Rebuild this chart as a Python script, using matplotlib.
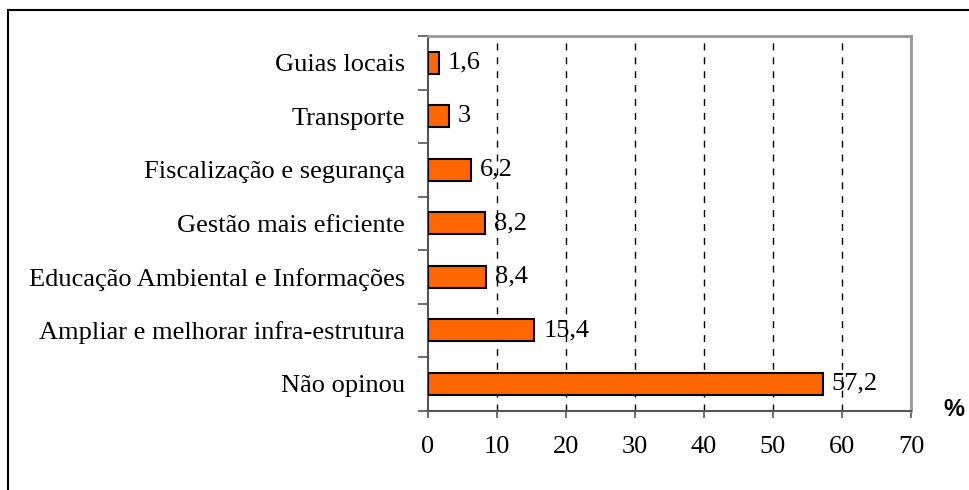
import matplotlib
matplotlib.use("Agg")
import matplotlib.pyplot as plt
from matplotlib.lines import Line2D

categorias = ["Guias locais", "Transporte", "Fiscalização e segurança",
              "Gestão mais eficiente", "Educação Ambiental e Informações",
              "Ampliar e melhorar infra-estrutura", "Não opinou"]
valores = [1.6, 3, 6.2, 8.2, 8.4, 15.4, 57.2]
rotulos = ["1,6", "3", "6,2", "8,2", "8,4", "15,4", "57,2"]
xticks = [0, 10, 20, 30, 40, 50, 60, 70]

plt.rcParams['font.family'] = ['Liberation Serif', 'DejaVu Serif']
FS = 19

fig = plt.figure(figsize=(9.7, 4.9), dpi=100)
ax = fig.add_axes([428/970, 1 - 410.7/490, (911 - 428)/970, (410.7 - 36)/490])

# posicoes de cima para baixo
ypos = list(range(len(categorias)))[::-1]
ax.barh(ypos, valores, height=0.41, color='#FF6600', edgecolor='black', linewidth=1.5, zorder=3)
for y, v, r in zip(ypos, valores, rotulos):
    ax.text(v + 1.3, y, r, va='center', ha='left', fontsize=FS, zorder=4)

ax.set_xlim(0, 70)
ax.set_ylim(-0.5, len(categorias) - 0.5)
ax.set_xticks(xticks)
ax.set_xticklabels([str(t) for t in xticks], fontsize=FS)
ax.set_yticks(ypos)
ax.set_yticklabels(categorias, fontsize=FS)
ax.tick_params(axis='y', length=0, pad=16.5)
ax.set_yticks([i - 0.5 for i in range(len(categorias) + 1)], minor=True)
ax.tick_params(axis='y', which='minor', length=7, width=1.2, color='#555555')
ax.tick_params(axis='x', length=5, width=1.2, color='#555555', pad=13)

for g in xticks[1:-1]:
    ax.axvline(g, color='black', linewidth=1, linestyle=(0, (5, 5)), zorder=1)

for s in ['top', 'right']:
    ax.spines[s].set_color('#999999')
    ax.spines[s].set_linewidth(2)
for s in ['left', 'bottom']:
    ax.spines[s].set_color('#555555')
    ax.spines[s].set_linewidth(1.5)

fig.text(954/970, 1 - 409/490, '%', ha='center', va='center', fontsize=17,
         fontweight='bold', family=['Liberation Sans', 'DejaVu Sans'])

# moldura externa
fig.add_artist(Line2D([8/970, 1], [1 - 10/490, 1 - 10/490], color='black', linewidth=1.5))
fig.add_artist(Line2D([8/970, 8/970], [0, 1 - 10/490], color='black', linewidth=1.5))

fig.savefig("out.png", dpi=100)
